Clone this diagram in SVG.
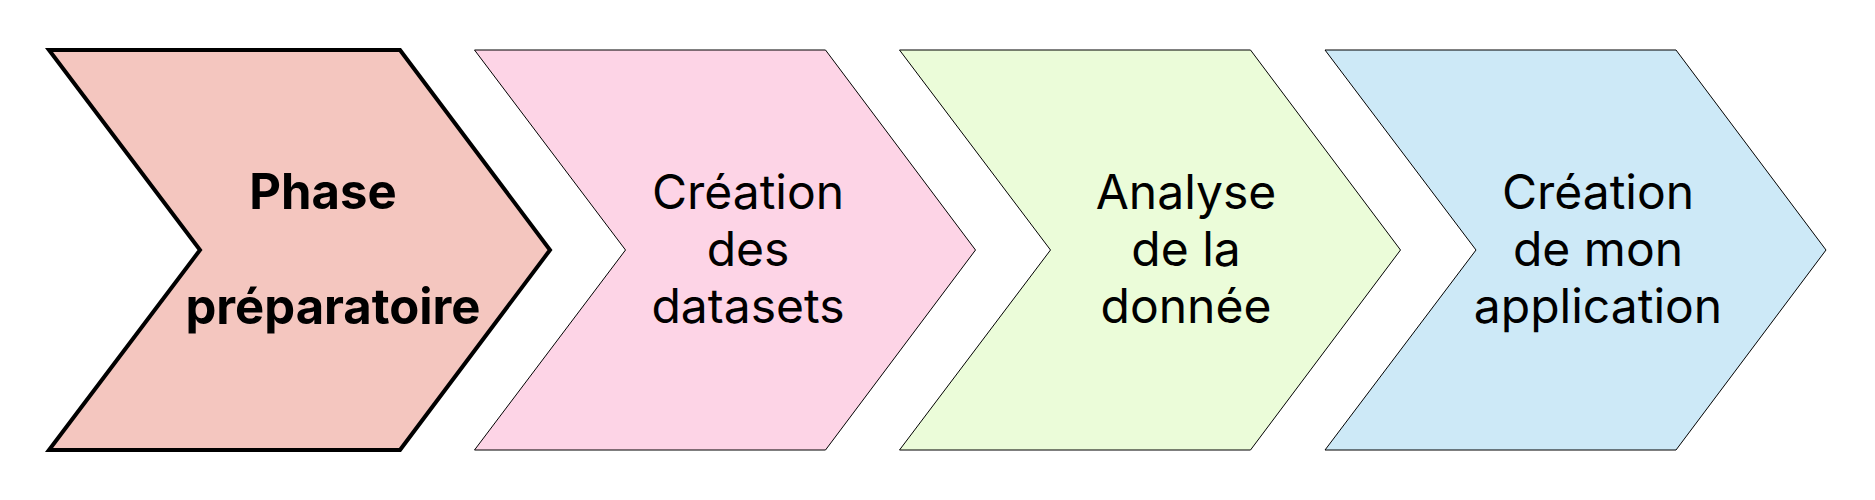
<svg xmlns="http://www.w3.org/2000/svg" width="1875" height="500" viewBox="0 0 1875 500">
<style>
.lbl{font-family:Inter,"Noto Sans",sans-serif;font-size:48px;fill:#000;text-anchor:middle}
.bold{font-weight:700;font-size:49px}
.thin{stroke:#000;stroke-width:1;stroke-linejoin:miter}
</style>
<rect width="1875" height="500" fill="#fff"/>
<g id="connectors"></g>
<g id="node1">
<polygon points="49,50 400,50 550,250 400,450 49,450 200,250" fill="#f4c6bf" stroke="#000" stroke-width="4"/>
<text class="lbl bold" x="323" y="209">Phase</text>
<text class="lbl bold" x="333" y="324">préparatoire</text>
</g>
<g id="node2">
<polygon class="thin" points="474.5,50 825.5,50 975.5,250 825.5,450 474.5,450 625.5,250" fill="#fdd4e6"/>
<text class="lbl" x="748" y="209">Création</text>
<text class="lbl" x="748" y="266">des</text>
<text class="lbl" x="748" y="323">datasets</text>
</g>
<g id="node3">
<polygon class="thin" points="899.5,50 1250.5,50 1400.5,250 1250.5,450 899.5,450 1050.5,250" fill="#ebfcd9"/>
<text class="lbl" x="1186" y="209">Analyse</text>
<text class="lbl" x="1186" y="266">de la</text>
<text class="lbl" x="1186" y="323">donnée</text>
</g>
<g id="node4">
<polygon class="thin" points="1325,50 1676,50 1826,250 1676,450 1325,450 1476,250" fill="#cde9f7"/>
<text class="lbl" x="1598" y="209">Création</text>
<text class="lbl" x="1598" y="266">de mon</text>
<text class="lbl" x="1598" y="323">application</text>
</g>
</svg>
